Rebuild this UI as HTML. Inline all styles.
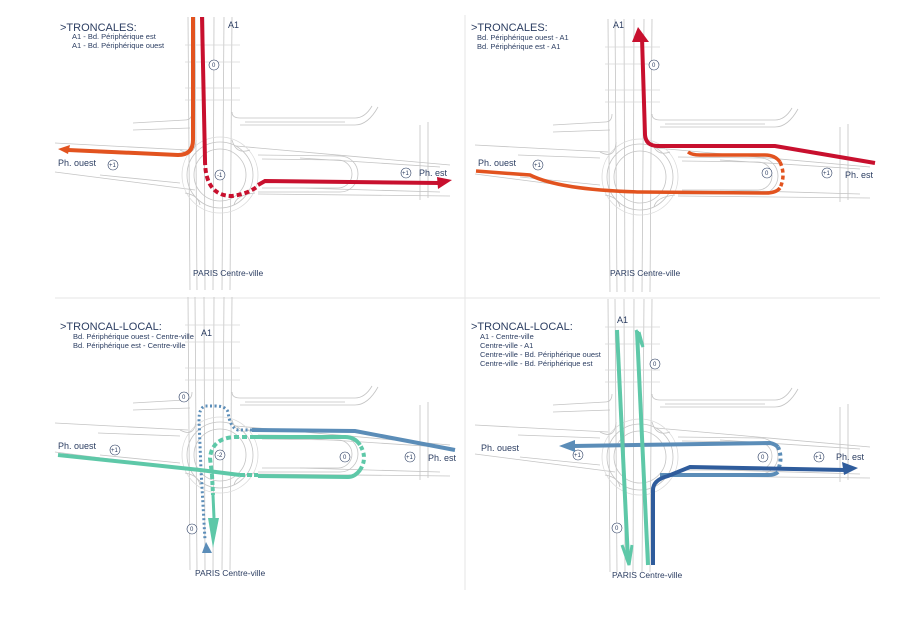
<!DOCTYPE html>
<html><head><meta charset="utf-8"><style>
html,body{margin:0;padding:0;background:#fff;}
svg{display:block;}
text{font-family:"Liberation Sans",sans-serif;fill:#2c3e62;}
.t{font-size:11px;}
.s{font-size:7.5px;}
.l{font-size:9px;}
.c{font-size:6px;}
</style></head><body>
<svg width="903" height="623" viewBox="0 0 903 623" xmlns="http://www.w3.org/2000/svg">
<defs>
<g id="map" fill="none" stroke="#c4c4c4" stroke-width="0.8">
  <path d="M188 17 L190 290 M195 17 L197 290 M204 17 L205 290 M214 17 L213 290 M224 17 L222 290 M232 17 L230 290"/>
  <path d="M185 45 L240 45 M185 62 L240 62 M185 88 L240 88 M185 100 L240 100" stroke="#d6d6d6"/>
  <path d="M133 123 L185 120 Q192 120 192 112 M133 130 L190 128"/>
  <path d="M232 112 Q232 118 240 118 L355 118 Q365 118 372 106 M240 125 L355 125 Q368 125 378 107 M245 122 L345 122"/>
  <path d="M55 143 L188 150 M55 172 L195 190 M98 153 L180 156 M100 175 L180 183"/>
  <path d="M236 146 L450 165 M258 194 L450 196 M300 158 L440 167 M300 188 L440 192"/>
  <path d="M258 155 L340 156 A18 18 0 0 1 340 192 L258 192"/>
  <path d="M262 159 L338 160 A13 13 0 0 1 338 188 L262 188"/>
  <circle cx="220" cy="175" r="26"/><circle cx="220" cy="175" r="33"/><circle cx="220" cy="175" r="38" stroke="#dadada"/>
  <path d="M232 140 Q236 155 250 150 M196 140 Q195 158 180 150 M200 205 Q198 195 185 193 M234 205 Q236 195 255 193"/>
  <path d="M420 125 L420 200 M428 122 L428 198"/>
</g>
<g id="circ" fill="#fff" stroke="#2c3e62" stroke-width="0.6"><circle r="5"/></g>
</defs>

<line x1="55" y1="298" x2="880" y2="298" stroke="#e6e6e6"/>
<line x1="465" y1="15" x2="465" y2="590" stroke="#e6e6e6"/>

<!-- Panel 1 -->
<use href="#map"/>
<text x="60" y="31" class="t">&gt;TRONCALES:</text>
<text x="72" y="39" class="s">A1 - Bd. Périphérique est</text>
<text x="72" y="48" class="s">A1 - Bd. Périphérique ouest</text>
<text x="228" y="28" class="l">A1</text>
<text x="58" y="166" class="l">Ph. ouest</text>
<text x="419" y="176" class="l">Ph. est</text>
<text x="193" y="276" class="s" style="font-size:8.5px">PARIS Centre-ville</text>
<use href="#circ" x="214" y="65"/><text x="212" y="67" class="c">0</text>
<use href="#circ" x="113" y="165"/><text x="109" y="167" class="c">+1</text>
<use href="#circ" x="220" y="175"/><text x="217" y="177" class="c">-1</text>
<use href="#circ" x="406" y="173"/><text x="402" y="175" class="c">+1</text>
<path d="M193 17 L193 140 Q193 155 178 155 L68 150" fill="none" stroke="#e2531f" stroke-width="4"/>
<path d="M58 149 L70 145 L68 154 Z" fill="#e2531f"/>
<path d="M202 17 L205 160" fill="none" stroke="#c8102e" stroke-width="4"/>
<path d="M205 160 Q205 196 232 196 Q248 194 258 186" fill="none" stroke="#c8102e" stroke-width="4" stroke-dasharray="5 3"/>
<path d="M258 185 L265 181 L440 183" fill="none" stroke="#c8102e" stroke-width="4"/>
<path d="M452 180 L437 177 L438 189 Z" fill="#c8102e"/>

<!-- Panel 2 -->
<g transform="translate(420,2)"><use href="#map"/></g>
<text x="471" y="31" class="t">&gt;TRONCALES:</text>
<text x="477" y="40" class="s">Bd. Périphérique ouest - A1</text>
<text x="477" y="49" class="s">Bd. Périphérique est - A1</text>
<text x="613" y="28" class="l">A1</text>
<text x="478" y="166" class="l">Ph. ouest</text>
<text x="845" y="178" class="l">Ph. est</text>
<text x="610" y="276" class="s" style="font-size:8.5px">PARIS Centre-ville</text>
<use href="#circ" x="654" y="65"/><text x="652" y="67" class="c">0</text>
<use href="#circ" x="538" y="165"/><text x="534" y="167" class="c">+1</text>
<use href="#circ" x="767" y="173"/><text x="765" y="175" class="c">0</text>
<use href="#circ" x="827" y="173"/><text x="823" y="175" class="c">+1</text>
<path d="M476 171 L530 175 Q560 190 640 192 L766 193 Q776 193 780 188" fill="none" stroke="#e2531f" stroke-width="3.5"/>
<path d="M688 152 Q692 155 700 155 L765 155 Q775 155 780 162" fill="none" stroke="#e2531f" stroke-width="3.5"/>
<path d="M780 162 Q786 175 780 188" fill="none" stroke="#e2531f" stroke-width="3.5" stroke-dasharray="4 3"/>
<path d="M642 38 L645 135 Q646 146 658 146 L775 146 L875 163" fill="none" stroke="#c8102e" stroke-width="4"/>
<path d="M638 27 L632 42 L649 42 Z" fill="#c8102e"/>

<!-- Panel 3 -->
<g transform="translate(0,280)"><use href="#map"/></g>
<text x="60" y="330" class="t">&gt;TRONCAL-LOCAL:</text>
<text x="73" y="339" class="s">Bd. Périphérique ouest - Centre-ville</text>
<text x="73" y="348" class="s">Bd. Périphérique est - Centre-ville</text>
<text x="201" y="336" class="l">A1</text>
<text x="58" y="449" class="l">Ph. ouest</text>
<text x="428" y="461" class="l">Ph. est</text>
<text x="195" y="576" class="s" style="font-size:8.5px">PARIS Centre-ville</text>
<use href="#circ" x="184" y="397"/><text x="182" y="399" class="c">0</text>
<use href="#circ" x="115" y="450"/><text x="111" y="452" class="c">+1</text>
<use href="#circ" x="220" y="455"/><text x="217" y="457" class="c">-2</text>
<use href="#circ" x="345" y="457"/><text x="343" y="459" class="c">0</text>
<use href="#circ" x="410" y="457"/><text x="406" y="459" class="c">+1</text>
<use href="#circ" x="192" y="529"/><text x="190" y="531" class="c">0</text>
<path d="M252 430 L355 431 L455 450" fill="none" stroke="#5b8db8" stroke-width="4"/>
<path d="M252 430 L238 430 Q230 428 228 412 Q226 406 215 406 L205 406 Q199 408 199 420 L201 470 L205 540" fill="none" stroke="#5b8db8" stroke-width="3" stroke-dasharray="2 2.5"/>
<path d="M203 537 L199 548 L209 548 Z" fill="#5b8db8" transform="translate(3,5)"/>
<path d="M58 455 L200 470 L240 475" fill="none" stroke="#5ec8a8" stroke-width="4"/>
<path d="M240 475 L258 475" fill="none" stroke="#5ec8a8" stroke-width="4" stroke-dasharray="5 2"/>
<path d="M258 476 L348 477 Q355 477 360 470" fill="none" stroke="#5ec8a8" stroke-width="4"/>
<path d="M360 470 Q368 458 360 445" fill="none" stroke="#5ec8a8" stroke-width="4" stroke-dasharray="4 3"/>
<path d="M360 445 Q355 437 345 437 L255 437" fill="none" stroke="#5ec8a8" stroke-width="4"/>
<path d="M255 437 L235 437 Q212 438 210 458 L212 475" fill="none" stroke="#5ec8a8" stroke-width="4" stroke-dasharray="5 3"/>
<path d="M212 475 L213 495" fill="none" stroke="#5ec8a8" stroke-width="4" stroke-dasharray="4 2"/>
<path d="M213 495 L214 518" fill="none" stroke="#5ec8a8" stroke-width="3"/>
<path d="M208 518 L219 518 L213 548 Z" fill="#5ec8a8"/>

<!-- Panel 4 -->
<g transform="translate(420,282)"><use href="#map"/></g>
<text x="471" y="330" class="t">&gt;TRONCAL-LOCAL:</text>
<text x="480" y="339" class="s">A1 - Centre-ville</text>
<text x="480" y="348" class="s">Centre-ville - A1</text>
<text x="480" y="357" class="s">Centre-ville - Bd. Périphérique ouest</text>
<text x="480" y="366" class="s">Centre-ville - Bd. Périphérique est</text>
<text x="617" y="323" class="l">A1</text>
<text x="481" y="451" class="l">Ph. ouest</text>
<text x="836" y="460" class="l">Ph. est</text>
<text x="612" y="578" class="s" style="font-size:8.5px">PARIS Centre-ville</text>
<use href="#circ" x="655" y="364"/><text x="653" y="366" class="c">0</text>
<use href="#circ" x="578" y="455"/><text x="574" y="457" class="c">+1</text>
<use href="#circ" x="763" y="457"/><text x="761" y="459" class="c">0</text>
<use href="#circ" x="819" y="457"/><text x="815" y="459" class="c">+1</text>
<use href="#circ" x="617" y="528"/><text x="615" y="530" class="c">0</text>
<path d="M573 446 L770 443 Q775 444 778 447" fill="none" stroke="#5b8db8" stroke-width="4"/>
<path d="M559 446 L575 440 L575 452 Z" fill="#5b8db8"/>
<path d="M778 447 Q783 458 778 470" fill="none" stroke="#5b8db8" stroke-width="4" stroke-dasharray="3 3"/>
<path d="M778 472 Q775 475 768 475 L660 475" fill="none" stroke="#5b8db8" stroke-width="4"/>
<path d="M653 565 L653 490 Q653 480 668 476 L690 467 L845 470" fill="none" stroke="#2f5c9c" stroke-width="4"/>
<path d="M858 468 L842 462 L844 475 Z" fill="#2f5c9c"/>
<path d="M617 330 L628 560" fill="none" stroke="#5ec8a8" stroke-width="4"/>
<path d="M622 545 L629 565 L632 545" fill="none" stroke="#5ec8a8" stroke-width="3"/>
<path d="M648 565 L637 331" fill="none" stroke="#5ec8a8" stroke-width="4"/>
<path d="M636 330 L643 347 L639 332" fill="none" stroke="#5ec8a8" stroke-width="3"/>
</svg>
</body></html>
